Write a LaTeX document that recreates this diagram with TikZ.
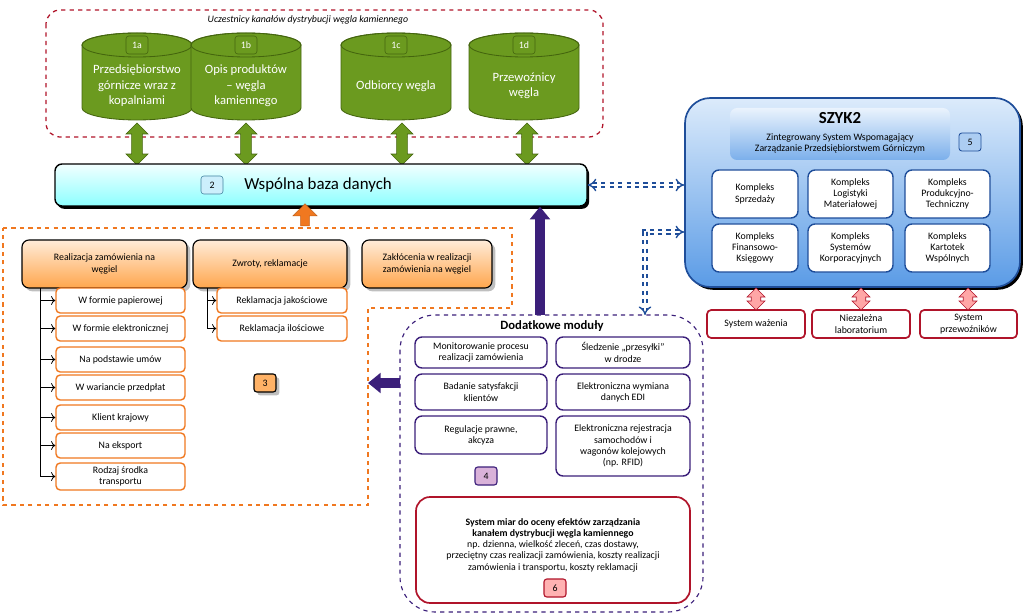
\documentclass[tikz,border=0pt]{standalone}
\usepackage{fontspec}
\setmainfont{Carlito}
\usetikzlibrary{positioning,fit,shapes.arrows,shadows,arrows.meta}
\definecolor{zielony}{HTML}{6B9A1F}
\definecolor{zielonyc}{HTML}{44650E}
\definecolor{pomar}{HTML}{F07820}
\definecolor{fiolet}{HTML}{3B1F7A}
\definecolor{czerw}{HTML}{B0142A}
\definecolor{nieb}{HTML}{1F4E9A}
\definecolor{niebj}{HTML}{DCEBFB}
\definecolor{niebc}{HTML}{5A9BE6}
\tikzset{
  badge/.style={draw=#1,rounded corners=2pt,minimum width=0.55cm,minimum height=0.45cm,font=\scriptsize,inner sep=0pt},
  cylbadge/.style={badge=zielonyc,fill=zielony,text=white},
  naglowek/.style={draw=black,line width=0.8pt,rounded corners=5pt,top color=orange!15,bottom color=orange!70,drop shadow,inner sep=0pt,font=\scriptsize,align=center},
  podpunkt/.style={draw=pomar,line width=1pt,rounded corners=3pt,fill=white,inner sep=0pt,font=\scriptsize,align=center},
  modul/.style={draw=fiolet,line width=1pt,rounded corners=5pt,fill=white,inner sep=0pt,font=\scriptsize,align=center},
  kompleks/.style={draw=nieb,line width=1pt,rounded corners=5pt,fill=white,inner sep=0pt,font=\scriptsize,align=center},
  zewn/.style={draw=czerw,line width=1.2pt,rounded corners=3pt,fill=white,inner sep=0pt,font=\scriptsize,align=center},
  zielstrz/.style={double arrow,draw=zielonyc,fill=zielony,rotate=90,minimum height=1.05cm,minimum width=0.55cm,double arrow head extend=0.08cm,inner sep=0.07cm},
  czerwstrz/.style={double arrow,draw=czerw,fill=red!35,rotate=90,minimum height=0.55cm,minimum width=0.45cm,double arrow head extend=0.06cm,inner sep=0.06cm},
  przerywana/.style={draw=nieb,double,dashed,line width=1pt,double distance=2pt},
  galaz/.style={-{To[length=3pt]},line width=0.6pt}
}
\newcommand\zbiornik[4]{%
  \fill[zielony,draw=zielonyc,line width=0.6pt] (#1-55,45) -- (#1-55,108) arc[start angle=180,end angle=360,x radius=1.375cm,y radius=0.3cm] -- (#1+55,45) arc[start angle=0,end angle=180,x radius=1.375cm,y radius=0.3cm] -- cycle;
  \draw[zielonyc,line width=0.6pt] (#1,45) ellipse[x radius=1.375cm,y radius=0.3cm];
  \node[cylbadge] (#2n) at (#1,45) {#3};
  \node[text=white,font=\small,align=center] (#2) at (#1,86) {#4};
}
\begin{document}
\begin{tikzpicture}[x=0.025cm,y=-0.025cm]
\useasboundingbox (0,0) rectangle (1024,616);
% uczestnicy
\draw[czerw,dashed,rounded corners=10pt,line width=0.9pt] (46,10) rectangle (603,137);
\node[font=\scriptsize\itshape] (tytul) at (308,20) {Uczestnicy kanałów dystrybucji węgla kamiennego};
\zbiornik{137}{c1a}{1a}{Przedsiębiorstwo\\górnicze wraz z\\kopalniami}
\zbiornik{246}{c1b}{1b}{Opis produktów\\– węgla\\kamiennego}
\zbiornik{396}{c1c}{1c}{Odbiorcy węgla}
\zbiornik{524}{c1d}{1d}{Przewoźnicy\\węgla}
\foreach \x in {137,246,402,527}
  \node[zielstrz] at (\x,144) {};
% baza
\node[draw=black,line width=1pt,rounded corners=5pt,top color=cyan!5,bottom color=cyan!45,drop shadow={shadow xshift=1.5pt,shadow yshift=-2pt,opacity=1,fill=black},fit={(55,164) (587,206)},inner sep=0pt] (baza) {};
\node[badge=cyan!60!black,fill=cyan!20] (b2) at (212,185) {2};
\node[font=\large,right=0.4cm of b2] (bazat) {Wspólna baza danych};
% blok 3
\draw[pomar,dashed,line width=0.8pt] (3,228) -- (512,228) -- (512,308) -- (368,308) -- (368,505) -- (3,505) -- cycle;
\node[single arrow,draw=pomar!80!black,fill=pomar,rotate=90,minimum height=0.55cm,minimum width=0.6cm,single arrow head extend=0.1cm,inner sep=0.05cm] (strz3) at (305,217) {};
\node[naglowek,fit={(22,240) (187,288)}] (real) {};
\node[font=\scriptsize,align=center] at (real) {Realizacja zamówienia na\\węgiel};
\node[naglowek,fit={(193,240) (347,288)}] (zwroty) {};
\node[font=\scriptsize] at (zwroty) {Zwroty, reklamacje};
\node[naglowek,fit={(362,240) (492,288)}] (zakl) {};
\node[font=\scriptsize,align=center] at (zakl) {Zakłócenia w realizacji\\zamówienia na węgiel};
\coordinate (pion1) at (40,288);
\foreach \n/\a/\b/\t in {p1/288/313/{W formie papierowej},p2/316/341/{W formie elektronicznej},p3/347/372/{Na podstawie umów},p4/375/400/{W wariancie przedpłat},p5/405/430/{Klient krajowy},p6/433/458/{Na eksport},p7/463/490/{Rodzaj środka\\transportu}}{
  \node[podpunkt,fit={(56,\a) (185,\b)}] (\n) {};
  \node[font=\scriptsize,align=center] at (\n) {\t};
  \draw[galaz] (pion1 |- \n.west) -- (\n.west);
}
\draw[line width=0.6pt] (pion1) -- (pion1 |- p7.west);
\coordinate (pion2) at (207,288);
\foreach \n/\a/\b/\t in {r1/288/313/{Reklamacja jakościowe},r2/316/341/{Reklamacja ilościowe}}{
  \node[podpunkt,fit={(217,\a) (347,\b)}] (\n) {};
  \node[font=\scriptsize] at (\n) {\t};
  \draw[galaz] (pion2 |- \n.west) -- (\n.west);
}
\draw[line width=0.6pt] (pion2) -- (pion2 |- r2.west);
\node[badge=black,fill=orange!60,line width=0.8pt,drop shadow] (b3) at (265,383) {3};
% moduly
\draw[fiolet,dashed,rounded corners=25pt,line width=0.8pt] (400,315) rectangle (703,612);
\node[font=\small\bfseries] (dodat) at (552,326) {Dodatkowe moduły};
\node[modul,fit={(415,337) (547,368)}] (m1) {}; \node[font=\scriptsize,align=center] at (m1) {Monitorowanie procesu\\realizacji zamówienia};
\node[modul,fit={(556,337) (690,368)}] (m2) {}; \node[font=\scriptsize,align=center] at (m2) {Śledzenie „przesyłki”\\w drodze};
\node[modul,fit={(415,374) (547,410)}] (m3) {}; \node[font=\scriptsize,align=center] at (m3) {Badanie satysfakcji\\klientów};
\node[modul,fit={(556,374) (690,410)}] (m4) {}; \node[font=\scriptsize,align=center] at (m4) {Elektroniczna wymiana\\danych EDI};
\node[modul,fit={(415,416) (547,454)}] (m5) {}; \node[font=\scriptsize,align=center] at (m5) {Regulacje prawne,\\akcyza};
\node[modul,fit={(556,416) (690,476)}] (m6) {}; \node[font=\scriptsize,align=center] at (m6) {Elektroniczna rejestracja\\samochodów i\\wagonów kolejowych\\(np. RFID)};
\node[badge=fiolet,fill=violet!30,line width=0.8pt] (b4) at (486,476) {4};
\node[draw=czerw,line width=1.2pt,rounded corners=10pt,fit={(416,497) (690,603)},inner sep=0pt] (miary) {};
\node[font=\scriptsize,align=center] (miaryt) at (553,545) {\textbf{System miar do oceny efektów zarządzania}\\\textbf{kanałem dystrybucji węgla kamiennego}\\np. dzienna, wielkość zleceń, czas dostawy,\\przeciętny czas realizacji zamówienia, koszty realizacji\\zamówienia i transportu, koszty reklamacji};
\node[badge=czerw,fill=red!30,line width=0.8pt] (b6) at (555,588) {6};
\coordinate (lewo4) at (400,383);
\draw[-{Triangle[length=9pt,width=14pt]},line width=7pt,fiolet] (lewo4) -- (368,383);
\coordinate (gora4) at (540,315);
\draw[-{Triangle[length=9pt,width=14pt]},line width=7pt,fiolet] (gora4) -- (baza.south -| gora4);
% SZYK2
\node[draw=nieb,line width=1.2pt,rounded corners=18pt,top color=niebj,bottom color=niebc,drop shadow={shadow xshift=2pt,shadow yshift=-2pt,opacity=1,fill=black},fit={(685,98) (1020,287)},inner sep=0pt] (szyk) {};
\node[rounded corners=5pt,top color=niebj!60!white,bottom color=niebc!80,fit={(730,108) (950,160)},inner sep=0pt] (szykn) {};
\node[font=\large\bfseries] (szykt) at (840,118) {SZYK2};
\node[font=\scriptsize,align=center,below=0pt of szykt] {Zintegrowany System Wspomagający\\Zarządzanie Przedsiębiorstwem Górniczym};
\node[badge=nieb,fill=niebc!50,line width=0.6pt] (b5) at (970,142) {5};
\foreach \n/\xa/\xb/\ya/\yb/\t in {k1/712/798/170/218/{Kompleks\\Sprzedaży},k2/808/893/170/218/{Kompleks\\Logistyki\\Materiałowej},k3/905/990/170/218/{Kompleks\\Produkcyjno-\\Techniczny},k4/712/798/224/272/{Kompleks\\Finansowo-\\Księgowy},k5/808/893/224/272/{Kompleks\\Systemów\\Korporacyjnych},k6/905/990/224/272/{Kompleks\\Kartotek\\Wspólnych}}{
  \node[kompleks,fit={(\xa,\ya) (\xb,\yb)}] (\n) {};
  \node[font=\scriptsize,align=center] at (\n) {\t};
}
\foreach \n/\xa/\xb/\x/\t in {s1/707/805/756/{System ważenia},s2/812/910/861/{Niezależna\\laboratorium},s3/920/1017/968/{System\\przewoźników}}{
  \node[zewn,fit={(\xa,310) (\xb,338)}] (\n) {};
  \node[font=\scriptsize,align=center] at (\n) {\t};
  \node[czerwstrz] at (\x,299) {};
}
\draw[przerywana,{Implies}-{Implies}] (baza.east |- 0,185) -- (szyk.west |- 0,185);
\coordinate (zalom) at (645,232);
\draw[przerywana,{Implies}-{Implies}] (szyk.west |- zalom) -- (zalom) -- (645,315);
\end{tikzpicture}
\end{document}
